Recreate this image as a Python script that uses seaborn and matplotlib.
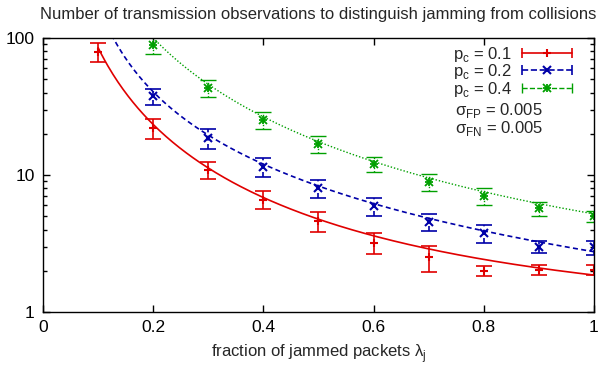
import numpy as np
import matplotlib
matplotlib.use('Agg')
import matplotlib.pyplot as plt
import seaborn as sns
from matplotlib.lines import Line2D
from matplotlib.legend_handler import HandlerLine2D
from matplotlib.ticker import FixedLocator, LogLocator, NullFormatter

# measured number of observations (mean and error) for each p_c
x_red = [0.1, 0.2, 0.3, 0.4, 0.5, 0.6, 0.7, 0.8, 0.9, 1.0]
y_red = [79, 22, 10.9, 6.6, 4.6, 3.2, 2.5, 2.0, 2.03, 2.03]
e_red = [12.5, 3.6, 1.6, 1.0, 0.75, 0.55, 0.55, 0.18, 0.18, 0.18]

x_blue = [0.2, 0.3, 0.4, 0.5, 0.6, 0.7, 0.8, 0.9, 1.0]
y_blue = [37.5, 18.6, 11.4, 8.0, 5.9, 4.55, 3.75, 3.0, 2.96]
e_blue = [5.0, 3.0, 1.8, 1.2, 0.9, 0.65, 0.55, 0.3, 0.35]

x_green = [0.2, 0.3, 0.4, 0.5, 0.6, 0.7, 0.8, 0.9, 1.0]
y_green = [89, 43, 25.2, 16.8, 12.0, 8.9, 7.0, 5.7, 5.0]
e_green = [12, 6, 3.7, 2.4, 1.5, 1.2, 1.0, 0.7, 0.45]

# fitted curves f(x) = a / (x - x0)^b + c
fit_a = [1.06, 2.59, 4.3]
fit_x0 = [0.0, 0.04, 0.0]
fit_b = [1.9, 1.5, 1.95]
fit_c = [0.8, 0.0, 0.9]

labels = ['p$_\\mathregular{c}$ = 0.1', 'p$_\\mathregular{c}$ = 0.2', 'p$_\\mathregular{c}$ = 0.4']
colors = ['#e00000', '#0000a8', '#00a000']
styles = ['-', (0, (3, 2)), (0, (1, 1.4))]
markers = [['+'], ['x'], ['+', 'x']]   # gnuplot asterisk = plus over cross
widths = [1.2, 1.2, 1.0]

sns.set_style('ticks')
plt.rcParams['font.family'] = ['Liberation Sans', 'DejaVu Sans']
plt.rcParams['mathtext.fontset'] = 'custom'
plt.rcParams['mathtext.rm'] = 'Liberation Sans'
plt.rcParams['font.size'] = 12


class CapHandler(HandlerLine2D):
    # gnuplot style key sample: line with end caps and point in the middle
    def create_artists(self, legend, orig, xdescent, ydescent, width, height, fontsize, trans):
        y = height / 2 - ydescent
        x0, x1 = -xdescent, -xdescent + width
        col = orig.get_color()
        lw = orig.get_linewidth()
        arts = [Line2D([x0, x1], [y, y], color=col, ls=orig.get_linestyle(), lw=lw),
                Line2D([x0, x1], [y, y], color=col, ls='none', marker='|', ms=7, mew=lw)]
        for m in orig.point_markers:
            arts.append(Line2D([(x0 + x1) / 2], [y], color=col, ls='none', marker=m,
                               ms=6, mew=lw + 0.3))
        for a in arts:
            a.set_transform(trans)
        return arts


fig = plt.figure(figsize=(5.98, 3.67), dpi=100)
ax = fig.add_axes([0.0719, 0.1499, 0.9214, 0.7466])

series = [(x_red, y_red, e_red), (x_blue, y_blue, e_blue), (x_green, y_green, e_green)]
xs = np.linspace(0.1, 1.0, 300)
handles = []
for i, (xv, yv, ev) in enumerate(series):
    fit = fit_a[i] / (xs - fit_x0[i]) ** fit_b[i] + fit_c[i]
    sns.lineplot(x=xs, y=fit, ax=ax, color=colors[i], linestyle=styles[i], linewidth=widths[i])
    eb = ax.errorbar(xv, yv, yerr=ev, fmt='none', ecolor=colors[i], elinewidth=widths[i],
                     capsize=5.5, capthick=widths[i])
    eb[2][0].set_linestyle(styles[i])
    for m in markers[i]:
        ax.plot(xv, yv, ls='none', marker=m, color=colors[i], ms=6, mew=widths[i] + 0.3)
    h = Line2D([], [], color=colors[i], ls=styles[i], lw=widths[i])
    h.point_markers = markers[i]
    handles.append(h)

ax.set_yscale('log')
ax.set_xlim(0, 1)
ax.set_ylim(1, 100)
ax.set_xticks([0, 0.2, 0.4, 0.6, 0.8, 1.0])
ax.set_xticklabels(['0', '0.2', '0.4', '0.6', '0.8', '1'])
ax.yaxis.set_major_locator(FixedLocator([1, 10, 100]))
ax.set_yticklabels(['1', '10', '100'])
ax.yaxis.set_minor_locator(LogLocator(base=10, subs=np.arange(2, 10)))
ax.yaxis.set_minor_formatter(NullFormatter())
ax.tick_params(which='both', direction='in', top=True, right=True, colors='black', width=1)
ax.tick_params(which='major', length=5, pad=6, labelsize=12.5)
ax.tick_params(which='minor', length=3)
for s in ax.spines.values():
    s.set_linewidth(1.0)
    s.set_color('black')

ax.set_title('Number of transmission observations to distinguish jamming from collisions',
             fontsize=12, pad=14)
ax.set_xlabel('fraction of jammed packets λ$_\\mathregular{j}$', fontsize=12, labelpad=5)

ax.legend(handles, labels, loc='upper right', bbox_to_anchor=(0.96, 0.975),
          markerfirst=False, frameon=False, handlelength=3.0, handletextpad=0.6,
          labelspacing=-0.1, borderaxespad=0, borderpad=0,
          handler_map={Line2D: CapHandler()})
ax.text(0.748, 0.735, 'σ$_\\mathregular{FP}$ = 0.005', transform=ax.transAxes, va='center', fontsize=12)
ax.text(0.748, 0.668, 'σ$_\\mathregular{FN}$ = 0.005', transform=ax.transAxes, va='center', fontsize=12)

fig.savefig('out.png', dpi=100)
